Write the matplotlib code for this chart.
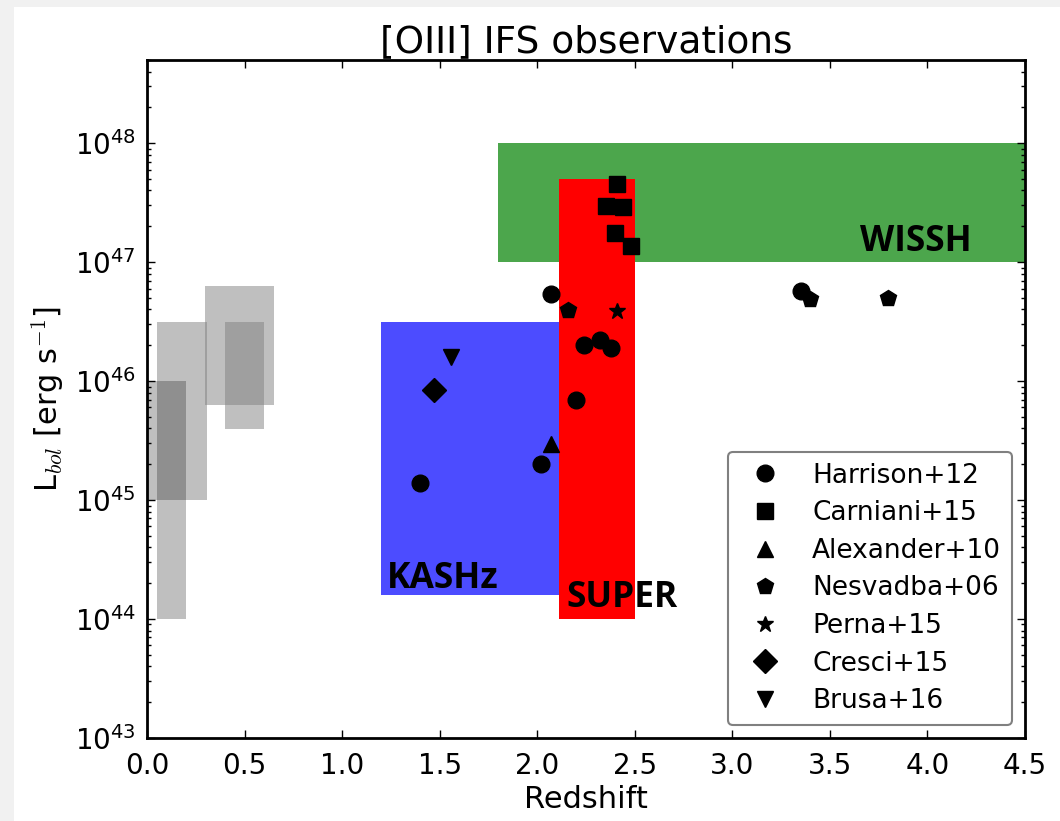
import numpy as np
import matplotlib
matplotlib.use("Agg")
from matplotlib import pyplot as plt
from matplotlib.patches import Rectangle

# survey regions: redshift range and L_bol range
wissh_z = [1.8, 4.6]
wissh_L = [1e47, 1e48]
kashz_z = [1.2, 2.5]
kashz_L = [10**44.2, 10**46.5]
super_z = [2.11, 2.5]
super_L = [1e44, 5e47]

# low-z samples (grey boxes): z0, z1, L0, L1
low_z0 = [0.0, 0.05, 0.05, 0.295, 0.4]
low_z1 = [0.2, 0.2, 0.305, 0.65, 0.6]
low_L0 = [1e45, 1e44, 1e45, 10**45.8, 10**45.6]
low_L1 = [1e46, 1e46, 10**46.5, 10**46.8, 10**46.5]

# individual objects
harrison_z = [1.40, 2.02, 2.07, 2.20, 2.24, 2.32, 2.38, 3.35]
harrison_L = [1.4e45, 2.0e45, 5.4e46, 7.0e45, 2.0e46, 2.2e46, 1.9e46, 5.7e46]
carniani_z = [2.41, 2.35, 2.44, 2.40, 2.48]
carniani_L = [4.5e47, 2.95e47, 2.9e47, 1.75e47, 1.37e47]
alexander_z = [2.07]
alexander_L = [2.95e45]
nesvadba_z = [2.16, 3.40, 3.80]
nesvadba_L = [3.95e46, 4.9e46, 4.95e46]
perna_z = [2.41]
perna_L = [3.9e46]
cresci_z = [1.47]
cresci_L = [8.4e45]
brusa_z = [1.56]
brusa_L = [1.6e46]

plt.rcParams['font.family'] = 'DejaVu Sans'
plt.rcParams['mathtext.fontset'] = 'cm'
plt.rcParams['xtick.direction'] = 'in'
plt.rcParams['ytick.direction'] = 'in'


def main():
    fig = plt.figure(figsize=(10.6, 8.21), dpi=100)
    fig.patch.set_facecolor('#f1f1f1')
    fig.add_artist(Rectangle((14 / 1060, 0), 1, (821 - 7) / 821,
                             transform=fig.transFigure, facecolor='white',
                             edgecolor='none', zorder=-1))
    ax = fig.add_axes([147 / 1060, 83 / 821, 878 / 1060, 678 / 821])

    for z0, z1, L0, L1 in zip(low_z0, low_z1, low_L0, low_L1):
        ax.fill_between([z0, z1], L0, L1, color='gray', alpha=0.5, lw=0)

    ax.fill_between(wissh_z, wissh_L[0], wissh_L[1], color='green', alpha=0.7, lw=0)
    ax.fill_between(kashz_z, kashz_L[0], kashz_L[1], color='blue', alpha=0.7, lw=0)
    ax.fill_between(super_z, super_L[0], super_L[1], color='red', lw=0)

    ms = 12
    ax.plot(harrison_z, harrison_L, 'ko', ms=ms, ls='none', label='Harrison+12')
    ax.plot(carniani_z, carniani_L, 'ks', ms=ms, ls='none', label='Carniani+15')
    ax.plot(alexander_z, alexander_L, 'k^', ms=ms, ls='none', label='Alexander+10')
    ax.plot(nesvadba_z, nesvadba_L, 'kp', ms=ms, ls='none', label='Nesvadba+06')
    ax.plot(perna_z, perna_L, 'k*', ms=ms, ls='none', label='Perna+15')
    ax.plot(cresci_z, cresci_L, 'kD', ms=ms, ls='none', label='Cresci+15')
    ax.plot(brusa_z, brusa_L, 'kv', ms=ms, ls='none', label='Brusa+16')

    lab = dict(fontfamily='Open Sans', fontweight='bold', fontsize=25.5, va='baseline')
    ax.text(1.228, 10**44.26, 'KASHz', **lab)
    ax.text(2.148, 10**44.10, 'SUPER', **lab)
    ax.text(3.654, 10**47.09, 'WISSH', **lab)

    ax.set_yscale('log')
    ax.set_xlim(0, 4.5)
    ax.set_ylim(1e43, 5e48)
    ax.set_xticks(np.arange(0, 4.51, 0.5))
    ax.set_title('[OIII] IFS observations', fontsize=27)
    ax.set_xlabel('Redshift', fontsize=22)
    ax.set_ylabel(r'L$_{bol}$ [erg s$^{-1}$]', fontsize=22, labelpad=6)
    ax.tick_params(which='both', top=True, right=True, labelsize=20)
    ax.tick_params(which='major', length=5.5, width=1)
    ax.tick_params(axis='x', which='major', pad=10)
    ax.tick_params(axis='y', which='major', pad=8)
    ax.tick_params(which='minor', length=3, width=1)
    for sp in ax.spines.values():
        sp.set_linewidth(2)

    leg = ax.legend(loc='lower right', numpoints=1, fontsize=19, fancybox=True,
                    labelspacing=0.44, handlelength=2.0, handletextpad=0.8,
                    borderpad=0.4, framealpha=1)
    leg.get_frame().set_edgecolor('0.5')
    leg.get_frame().set_linewidth(1.5)

    fig.savefig('out.png', dpi=100, facecolor=fig.get_facecolor())


if __name__ == "__main__":
    main()
